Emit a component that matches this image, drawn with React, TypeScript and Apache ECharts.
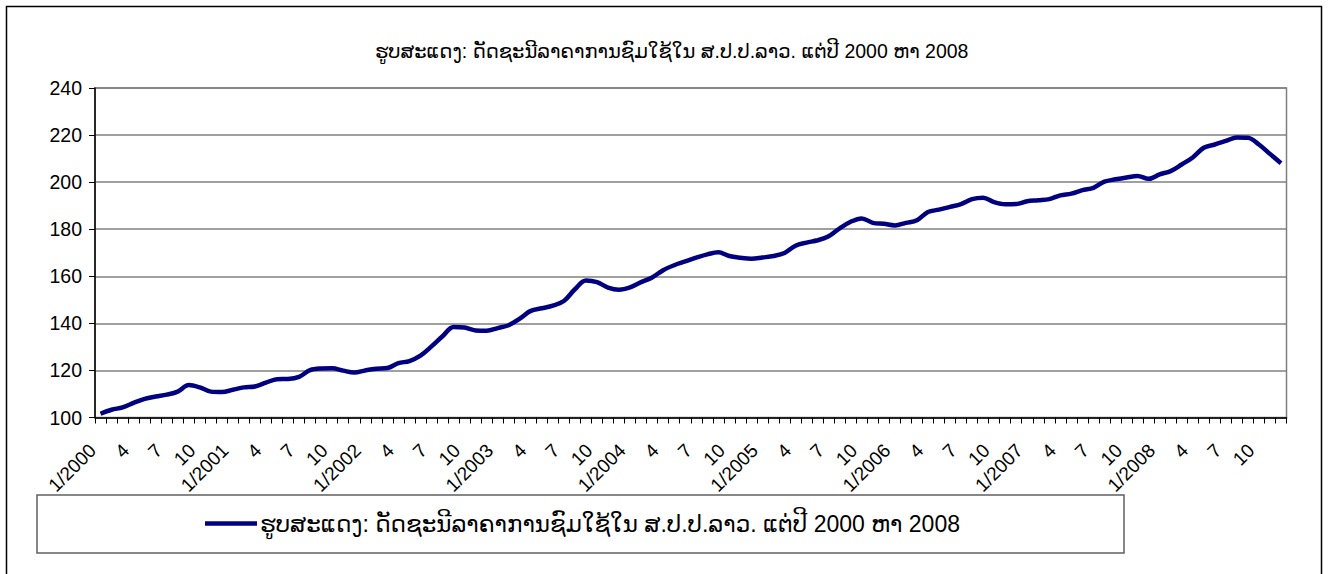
import React, { useEffect, useRef } from "react";
import * as echarts from "echarts";

const titleText = "ຮູບສະແດງ: ດັດຊະນີລາຄາການຊົມໃຊ້ໃນ ສ.ປ.ປ.ລາວ. ແຕ່ປີ 2000 ຫາ 2008";
const seriesName = "ຮູບສະແດງ: ດັດຊະນີລາຄາການຊົມໃຊ້ໃນ ສ.ປ.ປ.ລາວ. ແຕ່ປີ 2000 ຫາ 2008";

const years = [2000, 2001, 2002, 2003, 2004, 2005, 2006, 2007, 2008];
const months = [1, 2, 3, 4, 5, 6, 7, 8, 9, 10, 11, 12];

const values2000 = [101.6, 103.3, 104.3, 106.2, 107.9, 108.9, 109.7, 111.0, 113.8, 112.8, 111.0, 110.8];
const values2001 = [111.8, 112.8, 113.2, 114.8, 116.3, 116.4, 117.3, 120.1, 120.8, 120.9, 119.9, 119.1];
const values2002 = [120.0, 120.7, 121.0, 123.1, 124.0, 126.3, 130.2, 134.5, 138.5, 138.2, 137.0, 136.9];
const values2003 = [138.0, 139.2, 142.0, 145.3, 146.4, 147.5, 149.5, 154.5, 158.2, 157.5, 155.2, 154.3];
const values2004 = [155.3, 157.5, 159.5, 162.6, 164.7, 166.3, 167.9, 169.3, 170.2, 168.6, 167.9, 167.5];
const values2005 = [168.0, 168.6, 169.9, 173.0, 174.3, 175.3, 177.0, 180.4, 183.2, 184.6, 182.7, 182.3];
const values2006 = [181.6, 182.7, 183.8, 187.3, 188.3, 189.5, 190.7, 192.8, 193.4, 191.5, 190.6, 190.7];
const values2007 = [191.9, 192.3, 192.8, 194.4, 195.1, 196.6, 197.6, 200.2, 201.2, 202.0, 202.6, 201.4];
const values2008 = [203.3, 204.7, 207.5, 210.5, 214.6, 216.0, 217.5, 219.0, 218.9, 216.0, 212.0, 208.0];

const yTicks = { min: 100, max: 240, interval: 20 };

const categories: string[] = [];
years.forEach((y) => months.forEach((m) => categories.push(m === 1 ? `${m}/${y}` : `${m}`)));
const values = [
  ...values2000, ...values2001, ...values2002, ...values2003, ...values2004,
  ...values2005, ...values2006, ...values2007, ...values2008,
];

const FONT = "'Liberation Sans', Arial, 'DejaVu Sans', sans-serif";

export default function App() {
  const ref = useRef<HTMLDivElement>(null);
  useEffect(() => {
    if (!ref.current) return;
    const chart = echarts.init(ref.current, null, { renderer: "svg" });
    chart.setOption({
      animation: false,
      backgroundColor: "#fff",
      title: {
        text: titleText,
        left: 370,
        top: 36,
        textStyle: { fontFamily: FONT, fontSize: 19.5, fontWeight: "normal", color: "#000" },
      },
      legend: {
        left: 200,
        top: 507,
        icon: "rect",
        itemWidth: 52,
        itemHeight: 4.5,
        itemGap: 4,
        textStyle: { fontFamily: FONT, fontSize: 23, color: "#000", padding: [0, 0, 0, -2] },
        data: [seriesName],
      },
      grid: {
        left: 95,
        right: 44.5,
        top: 88,
        bottom: 156.5,
        show: true,
        borderColor: "#808080",
        borderWidth: 1.5,
      },
      xAxis: {
        type: "category",
        data: categories,
        boundaryGap: true,
        axisLine: { lineStyle: { color: "#000", width: 1.5 } },
        axisTick: { show: true, interval: 0, length: 6, lineStyle: { color: "#000", width: 1 } },
        axisLabel: {
          interval: 2,
          rotate: 45,
          margin: 22,
          padding: [0, 11, 0, 0],
          fontFamily: FONT,
          fontSize: 19,
          color: "#000",
        },
        splitLine: { show: false },
      },
      yAxis: {
        type: "value",
        min: yTicks.min,
        max: yTicks.max,
        interval: yTicks.interval,
        axisLine: { show: true, lineStyle: { color: "#000", width: 1.5 } },
        axisTick: { show: true, length: 6, lineStyle: { color: "#000", width: 1 } },
        axisLabel: { fontFamily: FONT, fontSize: 19.5, color: "#000", margin: 13 },
        splitLine: { show: true, lineStyle: { color: "#808080", width: 1.5 } },
      },
      graphic: [
        {
          type: "rect",
          shape: { x: 6.5, y: 6.5, width: 1315, height: 580 },
          style: { fill: "none", stroke: "#000", lineWidth: 1.5 },
          silent: true,
        },
        {
          type: "rect",
          shape: { x: 37, y: 495, width: 1087, height: 58 },
          style: { fill: "none", stroke: "#606060", lineWidth: 1.5 },
          silent: true,
        },
      ],
      series: [
        {
          name: seriesName,
          type: "line",
          data: values,
          smooth: 0.35,
          symbol: "none",
          lineStyle: { color: "#000080", width: 4.5 },
          itemStyle: { color: "#000080" },
        },
      ],
    });
    return () => chart.dispose();
  }, []);
  return (
    <div
      ref={ref}
      style={{ position: "absolute", left: 0, top: 0, width: 1331, height: 574 }}
    />
  );
}
